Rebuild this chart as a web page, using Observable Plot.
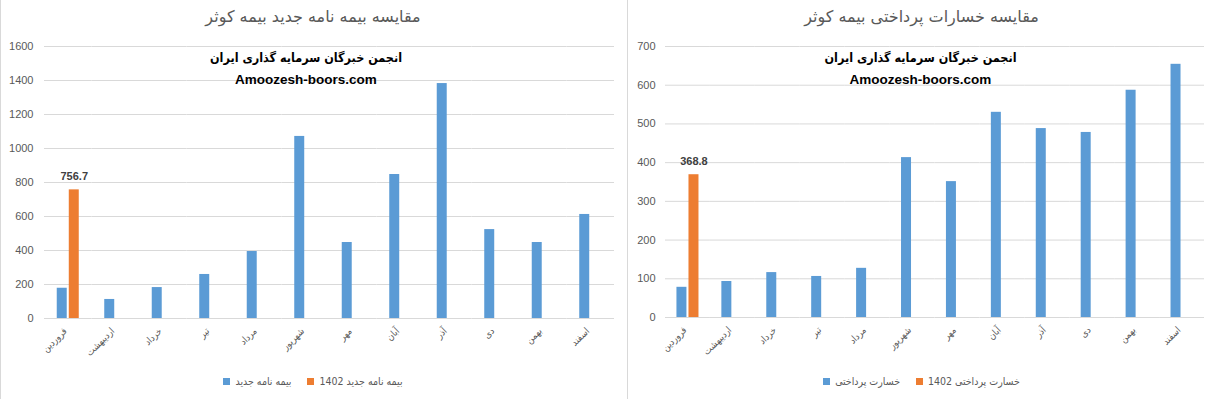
<!DOCTYPE html>
<html>
<head>
<meta charset="utf-8">
<script src="https://cdn.jsdelivr.net/npm/d3@7"></script>
<script src="https://cdn.jsdelivr.net/npm/@observablehq/plot@0.6"></script>
<style>
  body { margin: 0; background: #fff; font-family: "Liberation Sans", "DejaVu Sans", sans-serif; }
  #wrap { position: relative; width: 1216px; height: 399px; overflow: hidden; }
  .panel { position: absolute; top: 0; height: 399px; }
  .vline { position: absolute; top: 0; width: 1px; height: 399px; background: #d9d9d9; }
  .title { position: absolute; top: 0; left: 0; right: 0; height: 34px; line-height: 34px; text-align: center; color: #595959; font-size: 16px; font-family: "DejaVu Sans", sans-serif; direction: rtl; }
  .chart { position: absolute; top: 34px; left: 0; }
  .legend { position: absolute; top: 368px; left: 0; right: 0; height: 26px; display: flex; justify-content: center; align-items: center; direction: ltr; font-size: 10.5px; color: #595959; font-family: "DejaVu Sans Condensed", "DejaVu Sans", sans-serif; }
  .item { display: flex; align-items: center; margin: 0 8px; }
  .sw { width: 7px; height: 7px; margin-right: 5px; display: inline-block; }
</style>
</head>
<body>
<div id="wrap">
  <div class="vline" style="left:0"></div>
  <div class="vline" style="left:627px"></div>
  <div class="panel" id="p1" style="left:0;width:626px">
    <div class="title">مقایسه بیمه نامه جدید بیمه کوثر</div>
    <div class="chart" id="c1"></div>
    <div class="legend" id="l1"></div>
  </div>
  <div class="panel" id="p2" style="left:627px;width:589px">
    <div class="title">مقایسه خسارات پرداختی بیمه کوثر</div>
    <div class="chart" id="c2"></div>
    <div class="legend" id="l2"></div>
  </div>
</div>
<script>
const months = ["فروردین","اردیبهشت","خرداد","تیر","مرداد","شهریور","مهر","آبان","آذر","دی","بهمن","اسفند"];

// Chart 1: new policies
const policies = [178, 112, 182, 259, 394, 1071, 447, 847, 1382, 523, 447, 612];
const policies1402 = [756.7];
const policySeries = ["بیمه نامه جدید", "بیمه نامه جدید 1402"];
const policyTicks = [0, 200, 400, 600, 800, 1000, 1200, 1400, 1600];

// Chart 2: paid claims
const claims = [78, 93, 116, 106, 127, 413, 351, 530, 488, 478, 587, 654];
const claims1402 = [368.8];
const claimSeries = ["خسارت پرداختی", "خسارت پرداختی 1402"];
const claimTicks = [0, 100, 200, 300, 400, 500, 600, 700];

const watermark1 = "انجمن خبرگان سرمایه گذاری ایران";
const watermark2 = "Amoozesh-boors.com";

const colors = ["#5b9bd5", "#ed7d31"];

function build(el, legendEl, base, cur, series, ticks, opts) {
  const rows = months.map((m, i) => ({month: m, series: series[0], value: base[i]}));
  cur.forEach((v, i) => rows.push({month: months[i], series: series[1], value: v}));
  const labelRows = rows.filter(r => r.series === series[1]);
  const chart = Plot.plot({
    width: opts.width,
    height: 330,
    marginLeft: opts.marginLeft,
    marginRight: 12,
    marginTop: 12,
    marginBottom: opts.marginBottom,
    style: {fontFamily: '"Liberation Sans", "DejaVu Sans", sans-serif', color: "#595959", background: "transparent"},
    fx: {domain: months, padding: 0, round: false, label: null, axis: null},
    x: {domain: series, paddingInner: 0.17, paddingOuter: opts.po, round: false, axis: null},
    y: {domain: [0, ticks[ticks.length - 1]], label: null, axis: null},
    color: {domain: series, range: colors},
    marks: [
      Plot.gridY(ticks, {stroke: "#d9d9d9", strokeOpacity: 1, strokeWidth: 1}),
      Plot.axisY({ticks, tickSize: 0, tickPadding: opts.tickPad, tickFormat: d => String(d), label: null, fontSize: 11, fill: "#595959"}),
      Plot.axisFx({anchor: "bottom", tickRotate: -45, tickSize: 0, tickPadding: 11, dx: -3, fontSize: 9.5, label: null, fill: "#595959", fontFamily: '"DejaVu Sans Condensed", "DejaVu Sans", sans-serif', textOverflow: null, lineWidth: Infinity}),
      Plot.barY(rows, {fx: "month", x: "series", y: "value", fill: "series"}),
      Plot.text(labelRows, {fx: "month", x: "series", y: "value", text: d => d.value.toFixed(1), dy: -13, fontWeight: "bold", fontSize: 11, fill: "#404040"})
    ]
  });
  el.appendChild(chart);
  const svg = d3.select(chart.tagName.toLowerCase() === "svg" ? chart : chart.querySelector("svg"));
  const cx = opts.width / 2 + opts.wcx;
  svg.append("text").attr("x", cx).attr("y", 28).attr("text-anchor", "middle")
    .attr("font-weight", "bold").attr("font-size", 12.5).attr("fill", "#000")
    .attr("font-family", '"DejaVu Sans Condensed", "DejaVu Sans", sans-serif').attr("direction", "rtl")
    .text(watermark1);
  svg.append("text").attr("x", cx).attr("y", 50).attr("text-anchor", "middle")
    .attr("font-weight", "bold").attr("font-size", 13.5).attr("fill", "#000")
    .attr("font-family", '"Liberation Sans", sans-serif')
    .text(watermark2);

  series.forEach((s, i) => {
    const it = document.createElement("div");
    it.className = "item";
    const sw = document.createElement("span");
    sw.className = "sw";
    sw.style.background = colors[i];
    const t = document.createElement("span");
    t.textContent = s;
    t.dir = "rtl";
    it.appendChild(sw);
    it.appendChild(t);
    legendEl.appendChild(it);
  });
}

build(document.getElementById("c1"), document.getElementById("l1"), policies, policies1402, policySeries, policyTicks,
  {width: 626, marginLeft: 44, marginBottom: 46, po: 1.06, tickPad: 11, wcx: -7});
build(document.getElementById("c2"), document.getElementById("l2"), claims, claims1402, claimSeries, claimTicks,
  {width: 589, marginLeft: 38, marginBottom: 47, po: 0.95, tickPad: 10, wcx: -1});
</script>
</body>
</html>
